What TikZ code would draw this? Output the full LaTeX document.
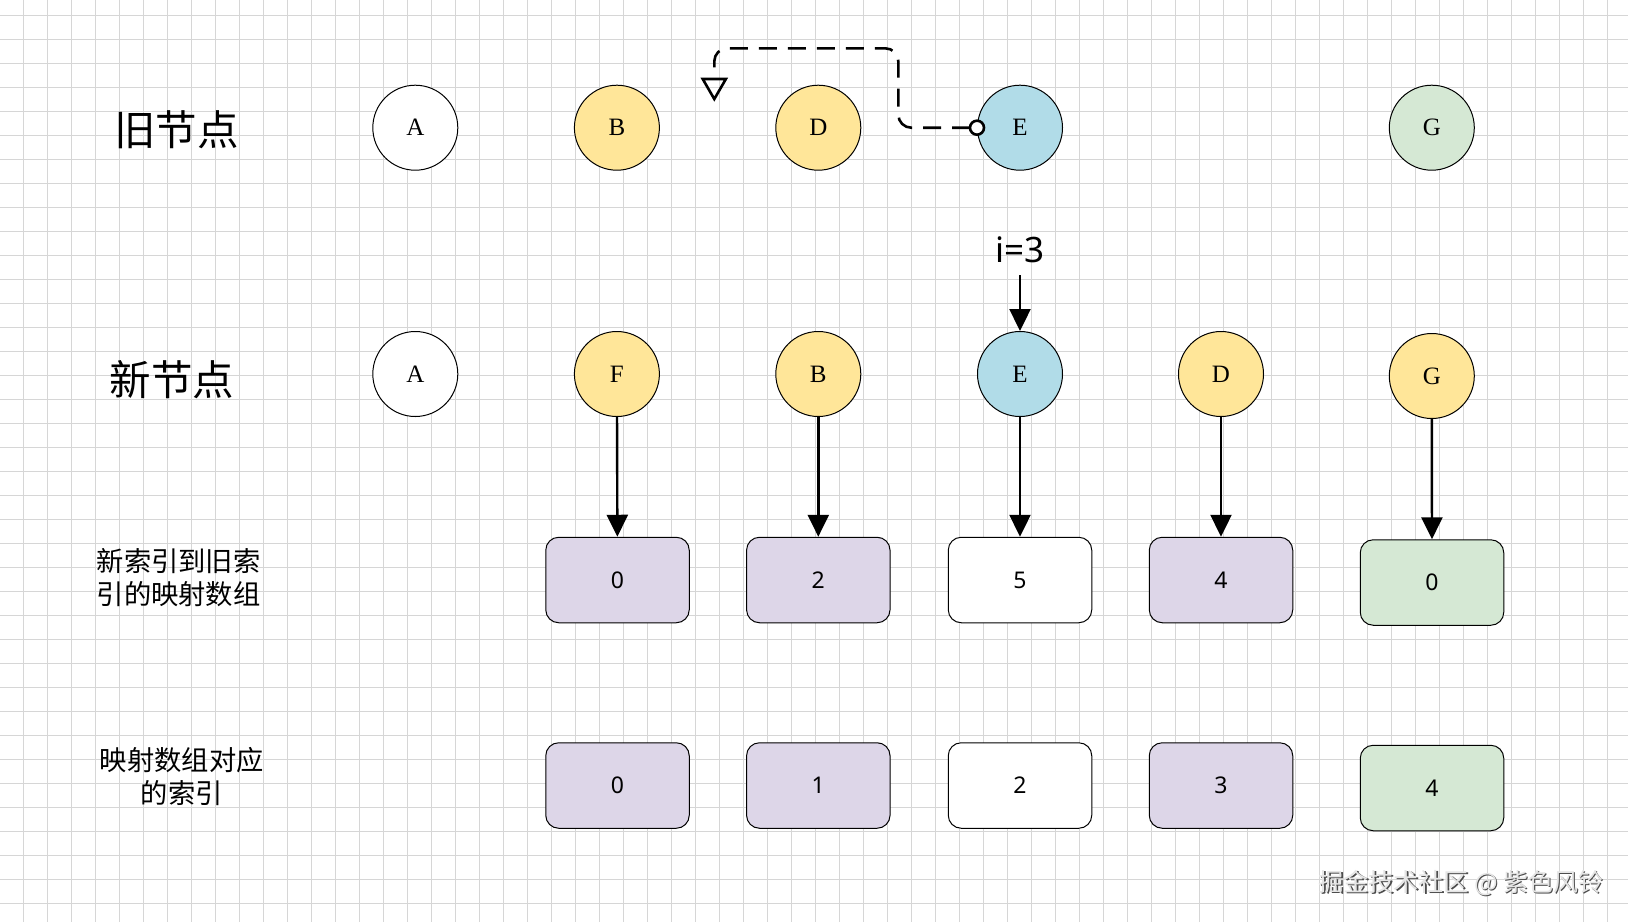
\documentclass[tikz,border=0pt]{standalone}
\usepackage{fontspec}
\setmainfont{Liberation Serif}
\newfontfamily\numfont{Noto Sans}
\newfontfamily\cjk{Noto Sans CJK SC}
\usetikzlibrary{arrows.meta}
\definecolor{gridc}{RGB}{214,214,214}
\definecolor{yel}{RGB}{255,230,153}
\definecolor{blu}{RGB}{177,220,232}
\definecolor{grn}{RGB}{213,232,212}
\definecolor{pur}{RGB}{221,214,232}
\tikzset{
  circnode/.style={circle,draw=black,line width=1pt,minimum size=85pt,inner sep=0pt,
    font=\fontsize{25}{25}\selectfont},
  boxnode/.style={rectangle,rounded corners=13pt,draw=black,line width=1pt,
    minimum width=143.5pt,minimum height=85.5pt,inner sep=0pt,font=\numfont\fontsize{23}{23}\selectfont},
  biglabel/.style={font=\cjk\fontsize{41.5}{41.5}\selectfont,inner sep=0pt},
  smalllabel/.style={font=\cjk\fontsize{27.3}{33}\selectfont,align=center,inner sep=0pt},
  arr/.style={line width=2.4pt,-{Triangle[width=21pt,length=22pt]}},
}
\begin{document}
\begin{tikzpicture}[x=1pt,y=-1pt]
\useasboundingbox (0,0) rectangle (1628,922);
\fill[white] (0,0) rectangle (1628,922);
% grid
\foreach \k in {0,...,66} {\draw[gridc,line width=1pt] ({23.5+24*\k},0) -- ({23.5+24*\k},922);}
\foreach \k in {0,...,37} {\draw[gridc,line width=1pt] (0,{15.3+24*\k}) -- (1628,{15.3+24*\k});}

% left labels
\node[biglabel] (lOld) at (176.5,130) {旧节点};
\node[biglabel] (lNew) at (172,380) {新节点};
\node[smalllabel] (lMap) at (178.6,578) {新索引到旧索\\引的映射数组};
\node[smalllabel] (lIdx) at (181.7,777) {映射数组对应\\的索引};

% old nodes
\node[circnode,fill=white] (oA) at (415.3,127.7) {A};
\node[circnode,fill=yel] (oB) at (616.9,127.7) {B};
\node[circnode,fill=yel] (oD) at (818.3,127.7) {D};
\node[circnode,fill=blu] (oE) at (1020,127.7) {E};
\node[circnode,fill=grn] (oG) at (1431.8,127.7) {G};

% new nodes
\node[circnode,fill=white] (nA) at (415.3,374) {A};
\node[circnode,fill=yel] (nF) at (616.9,374) {F};
\node[circnode,fill=yel] (nB) at (818.3,374) {B};
\node[circnode,fill=blu] (nE) at (1020,374) {E};
\node[circnode,fill=yel] (nD) at (1221,374) {D};
\node[circnode,fill=yel] (nG) at (1431.8,376) {G};

% map boxes
\node[boxnode,fill=pur] (m0) at (617.5,580) {0};
\node[boxnode,fill=pur] (m1) at (818.3,580) {2};
\node[boxnode,fill=white] (m2) at (1020,580) {5};
\node[boxnode,fill=pur] (m3) at (1221,580) {4};
\node[boxnode,fill=grn] (m4) at (1432,582.5) {0};

% index boxes
\node[boxnode,fill=pur] (i0) at (617.5,785.5) {0};
\node[boxnode,fill=pur] (i1) at (818.3,785.5) {1};
\node[boxnode,fill=white] (i2) at (1020,785.5) {2};
\node[boxnode,fill=pur] (i3) at (1221,785.5) {3};
\node[boxnode,fill=grn] (i4) at (1432,788) {4};

% arrows
\draw[arr] (nF) -- (m0);
\draw[arr] (nB) -- (m1);
\draw[arr] (nE) -- (m2);
\draw[arr] (nD) -- (m3);
\draw[arr] (nG) -- (m4);

% i=3
\node[font=\numfont\fontsize{35}{35}\selectfont,inner sep=0pt] (iLbl) at (1020,250) {i=3};
\coordinate (iStart) at (1020,275);
\draw[arr] (iStart) -- (nE);

% dashed move connector
\coordinate (dEnd) at (714.3,101.7);
\draw[line width=2.6pt,fill=white] (oE.west) circle (7pt);
\draw[line width=2.6pt,dash pattern=on 18pt off 11pt,rounded corners=13pt,
  -{Triangle[open,width=27pt,length=24pt,line width=2.6pt]}]
  ([xshift=-7pt]oE.west) -| (898.3,48.3) -| (dEnd);

% watermark
\node[font=\cjk\fontsize{25}{25}\selectfont,text=black!70,inner sep=0pt] (wmS) at (1462.5,884.5) {掘金技术社区 @ 紫色风铃};
\node[font=\cjk\fontsize{25}{25}\selectfont,text=black!10,inner sep=0pt] (wm) at (1461,883) {掘金技术社区 @ 紫色风铃};
\end{tikzpicture}
\end{document}
